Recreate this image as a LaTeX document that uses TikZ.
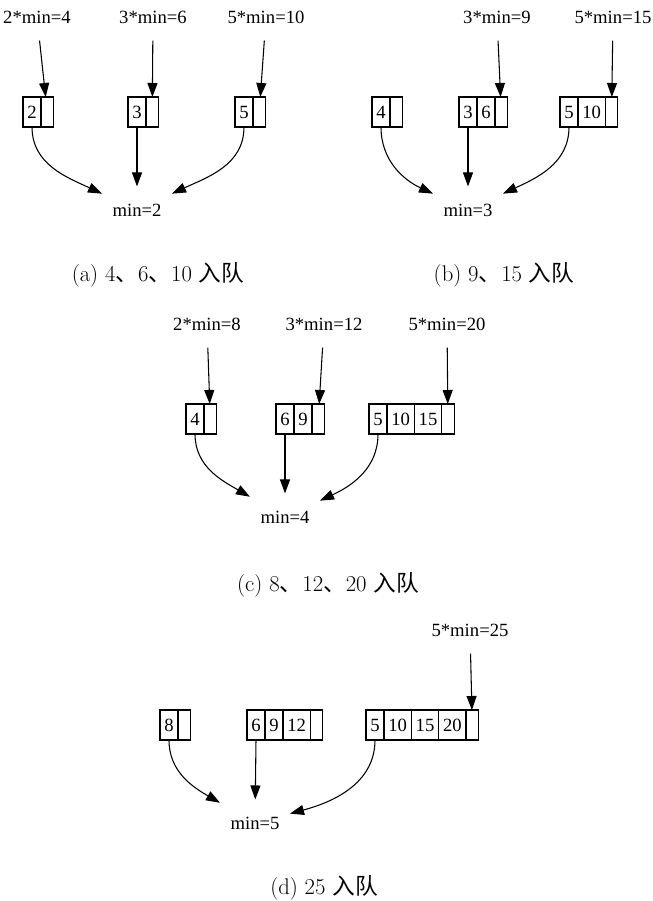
\documentclass[tikz,border=0pt]{standalone}
\usepackage{fontspec}
\newfontfamily\gvfont{Liberation Serif}
\newfontfamily\cjk{Noto Sans CJK SC}
\usetikzlibrary{arrows.meta,positioning}
\tikzset{
  every picture/.style={line width=0.8pt},
  cell/.style={draw, outer sep=0pt, inner xsep=3.25pt, inner ysep=0pt, minimum height=22.5pt, font=\gvfont\fontsize{14}{16}\selectfont},
  tail/.style={cell, minimum width=9.4pt},
  lbl/.style={inner sep=0pt, minimum width=51.75pt, minimum height=34.5pt, font=\gvfont\fontsize{14}{16}\selectfont},
  subcap/.style={inner sep=0pt, font=\fontsize{17}{20}\selectfont},
  flow/.style={-{Triangle[length=10.5pt,width=7.5pt]}},
}

\begin{document}
\begin{tikzpicture}[x=0.75pt, y=0.75pt]
  \useasboundingbox (0,0) rectangle (653,901);
  % (a) the three queues start with 2, 3, 5
  \node[cell, anchor=west] (a21) at (23,789) {2};
  \node[tail, right=0pt of a21] (a2e) {};
  \node[cell, anchor=west] (a31) at (128,789) {3};
  \node[tail, right=0pt of a31] (a3e) {};
  \node[cell, anchor=west] (a51) at (235,789) {5};
  \node[tail, right=0pt of a51] (a5e) {};
  \node[lbl] (a2in) at (37,884) {2*min=4};
  \node[lbl] (a3in) at (153,884) {3*min=6};
  \node[lbl] (a5in) at (266,884) {5*min=10};
  \node[lbl] (amin) at (137,691) {min=2};
  \draw[flow] (a2in) -- (a2e);
  \draw[flow] (a3in) -- (a3e);
  \draw[flow] (a5in) -- (a5e);
  \draw[flow] (a21.south) to[out=-90, in=155] (amin.155);
  \draw[flow] (a31.south) -- (amin);
  \draw[flow] (a51.south) to[out=-90, in=25] (amin.25);
  \node[subcap] (acap) at (158,626) {(a) 4{\cjk 、}6{\cjk 、}10 {\cjk 入队}};

  % (b)
  \node[cell, anchor=west] (b41) at (372,789) {4};
  \node[tail, right=0pt of b41] (b4e) {};
  \node[cell, anchor=west] (b31) at (459,789) {3};
  \node[cell, right=0pt of b31] (b32) {6};
  \node[tail, right=0pt of b32] (b3e) {};
  \node[cell, anchor=west] (b51) at (560,789) {5};
  \node[cell, right=0pt of b51] (b52) {10};
  \node[tail, right=0pt of b52] (b5e) {};
  \node[lbl] (b3in) at (497,884) {3*min=9};
  \node[lbl] (b5in) at (613,884) {5*min=15};
  \node[lbl] (bmin) at (468,691) {min=3};
  \draw[flow] (b3in) -- (b3e);
  \draw[flow] (b5in) -- (b5e);
  \draw[flow] (b41.south) to[out=-90, in=155] (bmin.155);
  \draw[flow] (b31.south) -- (bmin);
  \draw[flow] (b51.south) to[out=-90, in=25] (bmin.25);
  \node[subcap] (bcap) at (504,626) {(b) 9{\cjk 、}15 {\cjk 入队}};

  % (c)
  \node[cell, anchor=west] (c41) at (186,482) {4};
  \node[tail, right=0pt of c41] (c4e) {};
  \node[cell, anchor=west] (c61) at (276,482) {6};
  \node[cell, right=0pt of c61] (c62) {9};
  \node[tail, right=0pt of c62] (c6e) {};
  \node[cell, anchor=west] (c51) at (369,482) {5};
  \node[cell, right=0pt of c51] (c52) {10};
  \node[cell, right=0pt of c52] (c53) {15};
  \node[tail, right=0pt of c53] (c5e) {};
  \node[lbl] (c2in) at (207,577) {2*min=8};
  \node[lbl] (c3in) at (324,577) {3*min=12};
  \node[lbl] (c5in) at (447,577) {5*min=20};
  \node[lbl] (cmin) at (285,384) {min=4};
  \draw[flow] (c2in) -- (c4e);
  \draw[flow] (c3in) -- (c6e);
  \draw[flow] (c5in) -- (c5e);
  \draw[flow] (c41.south) to[out=-90, in=150] (cmin.150);
  \draw[flow] (c61.south) -- (cmin);
  \draw[flow] (c51.south) to[out=-90, in=25] (cmin.25);
  \node[subcap] (ccap) at (328,316) {(c) 8{\cjk 、}12{\cjk 、}20 {\cjk 入队}};

  % (d) only the 5-queue grows
  \node[cell, anchor=west] (d81) at (160,176) {8};
  \node[tail, right=0pt of d81] (d8e) {};
  \node[cell, anchor=west] (d61) at (247,176) {6};
  \node[cell, right=0pt of d61] (d62) {9};
  \node[cell, right=0pt of d62] (d63) {12};
  \node[tail, right=0pt of d63] (d6e) {};
  \node[cell, anchor=west] (d51) at (366,176) {5};
  \node[cell, right=0pt of d51] (d52) {10};
  \node[cell, right=0pt of d52] (d53) {15};
  \node[cell, right=0pt of d53] (d54) {20};
  \node[tail, right=0pt of d54] (d5e) {};
  \node[lbl] (d5in) at (470,271) {5*min=25};
  \node[lbl] (dmin) at (255,78) {min=5};
  \draw[flow] (d5in) -- (d5e);
  \draw[flow] (d81.south) to[out=-90, in=150] (dmin.150);
  \draw[flow] (d61.south) -- (dmin);
  \draw[flow] (d51.south) to[out=-90, in=15] (dmin.15);
  \node[subcap] (dcap) at (324,13) {(d) 25 {\cjk 入队}};
\end{tikzpicture}
\end{document}
